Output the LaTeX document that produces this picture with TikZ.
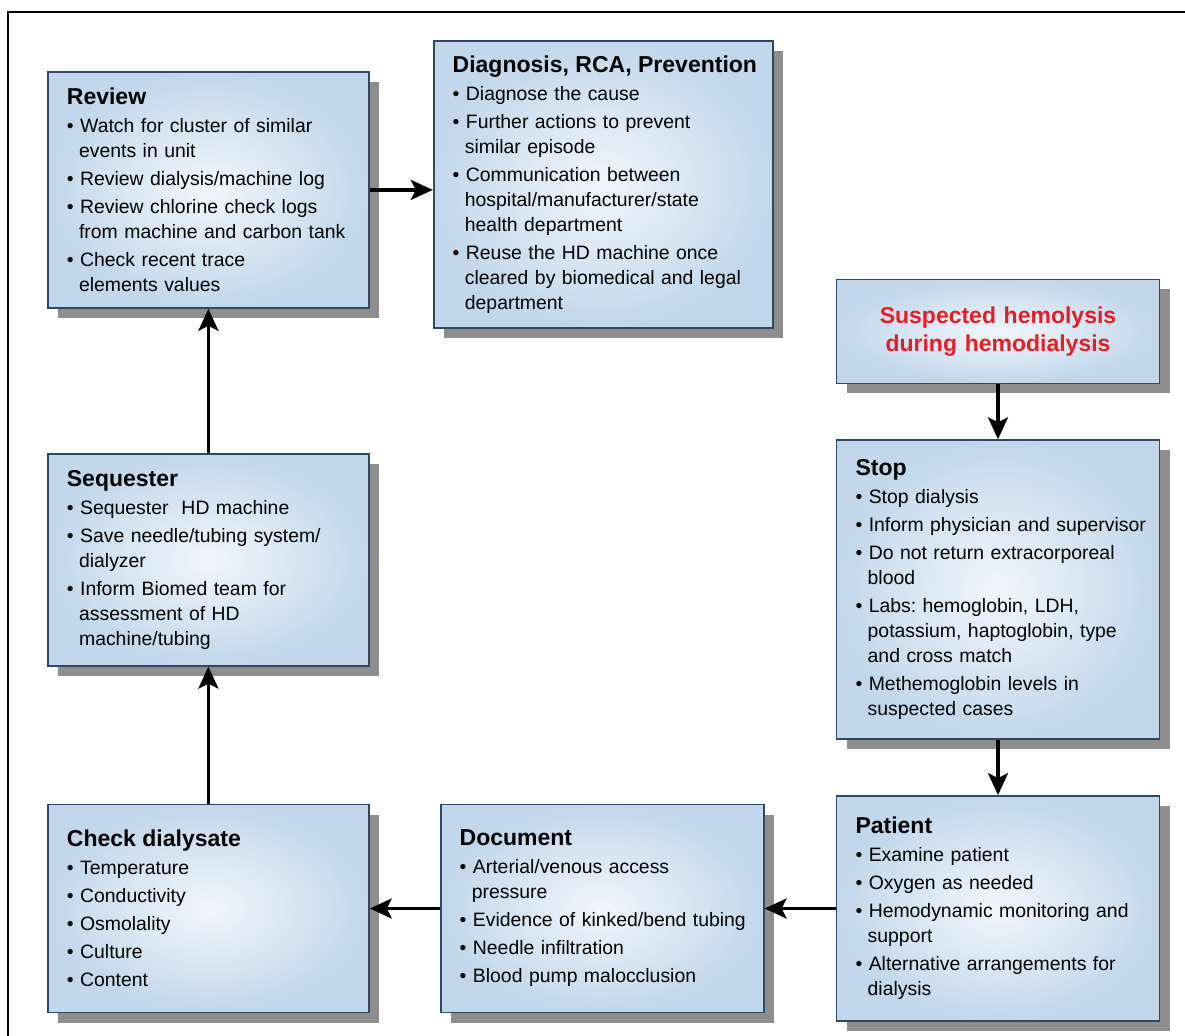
\documentclass[tikz,border=0pt]{standalone}
\usepackage{fontspec}
\setmainfont{Liberation Sans}
\usetikzlibrary{arrows.meta,positioning,shadows}

\definecolor{boxedge}{HTML}{2E4868}
\definecolor{boxout}{HTML}{C2D7EB}
\definecolor{boxin}{HTML}{F1F6FB}
\definecolor{shadowgray}{HTML}{8E8E8E}
\definecolor{alertred}{HTML}{E31E24}

\frenchspacing
\hyphenpenalty=10000
\newcommand{\boxtitle}[1]{\leftskip=9.5pt{\fontsize{11.5}{12.5}\selectfont\bfseries #1\par}}
\newcommand{\bitem}[1]{\par\vspace{1.5pt}\hangindent=6.1pt\hangafter=1\noindent\textbullet\ #1\par}

\begin{document}
\begin{tikzpicture}[
                            x=0.5pt, y=0.5pt,
                            >={Stealth[length=11pt,width=10pt,inset=2.5pt]},
                            stepbox/.style={draw=boxedge, line width=0.9pt, rectangle,
                                inner color=boxin, outer color=boxout,
                                drop shadow={shadow xshift=5pt, shadow yshift=-5pt, fill=shadowgray, opacity=1},
                                align=left, inner xsep=0pt, inner ysep=3pt,
                                font=\fontsize{9.7}{12.5}\selectfont},
                            flow/.style={->, line width=1.7pt}
                            ]

                            \useasboundingbox (0,0) rectangle (1185,-1035);
                            \draw[line width=1pt] (7.5,-12) rectangle (1200,-1050);

                            \node [stepbox, anchor=north west, text width=160.5pt, minimum height=118pt] (review) at (47,-71) {\boxtitle{Review}
                                \bitem{Watch for cluster of similar\newline events in unit}
                                \bitem{Review dialysis/machine log}
                                \bitem{Review chlorine check logs\newline from machine and carbon tank}
                                \bitem{Check recent trace\newline elements values}};
                            \node [stepbox, right=31.5pt of review, yshift=2.75pt, text width=169.5pt, minimum height=143.5pt] (diag) {\boxtitle{Diagnosis, RCA, Prevention}
                                \bitem{Diagnose the cause}
                                \bitem{Further actions to prevent\newline similar episode}
                                \bitem{Communication between\newline hospital/manufacturer/state\newline health department}
                                \bitem{Reuse the HD machine once\newline cleared by biomedical and legal\newline department}};
                            \node [stepbox, below=72pt of review, text width=160.5pt, minimum height=106pt] (seq) {\boxtitle{Sequester}
                                \bitem{Sequester~ HD machine}
                                \bitem{Save needle/tubing system/\newline dialyzer}
                                \bitem{Inform Biomed team for\newline assessment of HD\newline machine/tubing}};
                            \node [stepbox, below=68.5pt of seq, text width=160.5pt, minimum height=104pt] (check) {\boxtitle{Check dialysate}
                                \bitem{Temperature}
                                \bitem{Conductivity}
                                \bitem{Osmolality}
                                \bitem{Culture}
                                \bitem{Content}};
                            \node [stepbox, right=35pt of check, text width=161.5pt, minimum height=104pt] (document) {\boxtitle{Document}
                                \bitem{Arterial/venous access\newline pressure}
                                \bitem{Evidence of kinked/bend tubing}
                                \bitem{Needle infiltration}
                                \bitem{Blood pump malocclusion}};
                            \node [stepbox, right=35.5pt of document, text width=161.5pt, minimum height=112.5pt] (patient) {\boxtitle{Patient}
                                \bitem{Examine patient}
                                \bitem{Oxygen as needed}
                                \bitem{Hemodynamic monitoring and\newline support}
                                \bitem{Alternative arrangements for\newline dialysis}};
                            \node [stepbox, above=27.5pt of patient, text width=161.5pt, minimum height=149.5pt] (stop) {\boxtitle{Stop}
                                \bitem{Stop dialysis}
                                \bitem{Inform physician and supervisor}
                                \bitem{Do not return extracorporeal\newline blood}
                                \bitem{Labs: hemoglobin, LDH,\newline potassium, haptoglobin, type\newline and cross match}
                                \bitem{Methemoglobin levels in\newline suspected cases}};
                            \node [stepbox, above=27.5pt of stop, text width=161.5pt, minimum height=52pt, align=center,
                                font=\fontsize{11.5}{14}\selectfont\bfseries, text=alertred] (suspect) {Suspected hemolysis\\ during hemodialysis};

                            \draw[flow] (review.east) -- (review.east -| diag.west);
                            \draw[flow] (seq) -- (review);
                            \draw[flow] (check) -- (seq);
                            \draw[flow] (document) -- (check);
                            \draw[flow] (patient) -- (document);
                            \draw[flow] (suspect) -- (stop);
                            \draw[flow] (stop) -- (patient);
                        \end{tikzpicture}
\end{document}
